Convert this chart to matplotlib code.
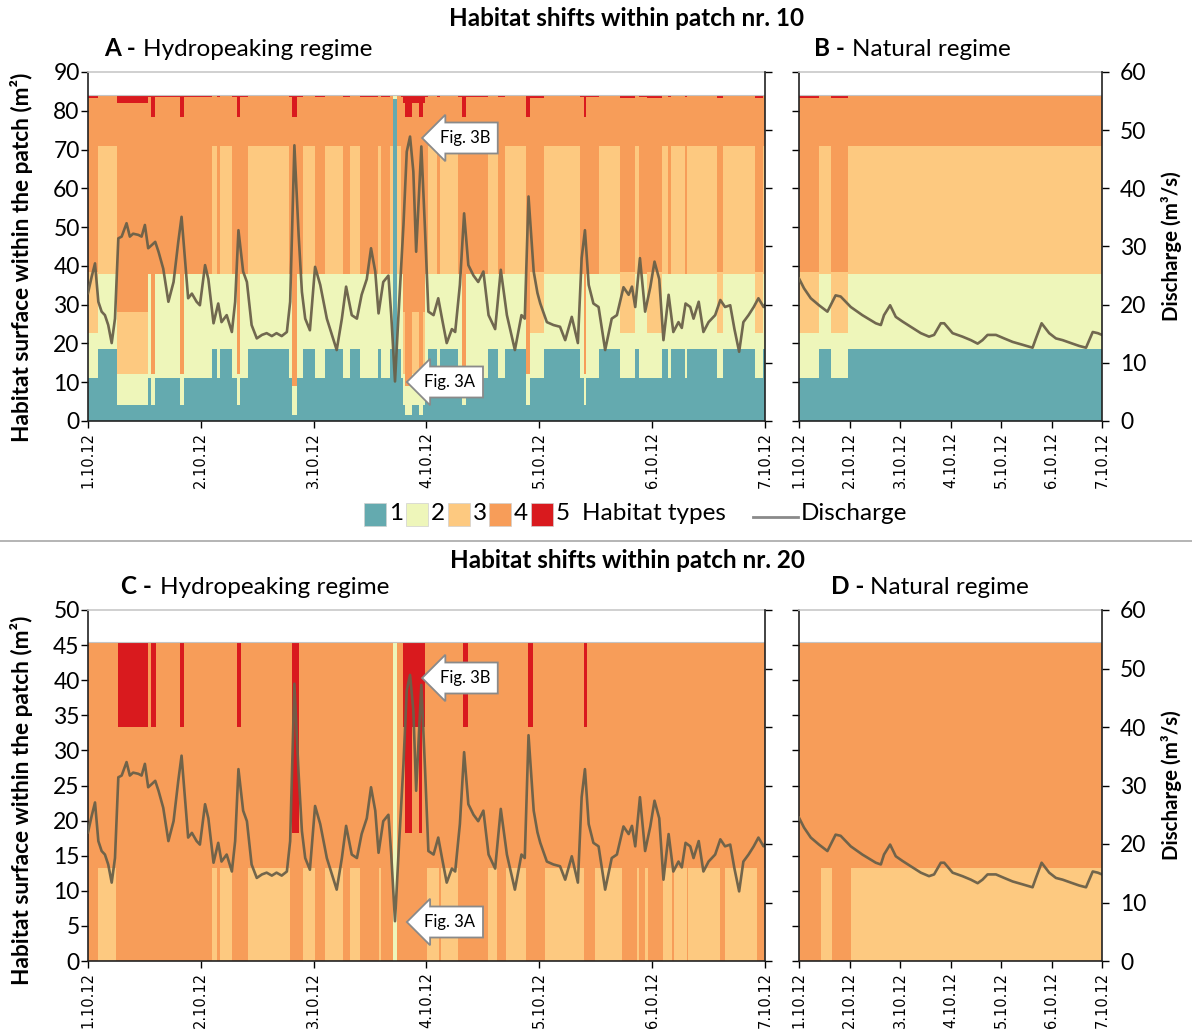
import matplotlib
matplotlib.use('Agg')
import matplotlib.pyplot as plt
from matplotlib.patches import Rectangle
from matplotlib.lines import Line2D
import numpy as np

plt.rcParams['font.family'] = ['Lato', 'DejaVu Sans']

# ---------------- data ----------------
DAY_TICKS = [0, 24, 48, 72, 96, 120, 144]
DAY_LABELS = ['1.10.12', '2.10.12', '3.10.12', '4.10.12', '5.10.12', '6.10.12', '7.10.12']

# hydropeaking discharge (hour since 1.10.12 00:00, m3/s)
Q_T = [0, 0.78, 1.49, 2.2, 2.9, 3.6, 4.3, 5.04, 5.74, 6.45, 7.16, 8.2, 8.9, 9.6, 10.7,
       11.4, 12.1, 12.8, 13.5, 14.3, 15.0, 16.0, 17.1, 18.2, 19.2, 19.9, 20.6, 21.3,
       22.1, 23.1, 23.8, 24.9, 25.6, 26.7, 27.7, 28.4, 29.5, 30.6, 31.3, 32.0, 33.0,
       33.8, 34.8, 35.9, 37.0, 38.0, 39.1, 40.1, 41.2, 42.3, 43.0, 43.9, 44.8, 45.5,
       46.2, 47.2, 48.3, 49.4, 50.8, 52.9, 54.0, 54.9, 56.1, 57.2, 58.2, 59.3, 60.2,
       61.1, 61.8, 62.8, 63.9, 64.5, 65.3, 66.0, 67.1, 67.8, 68.5, 69.2, 69.8, 70.9,
       71.7, 72.4, 73.5, 74.5, 75.3, 76.3, 77.4, 78.1, 79.1, 80.0, 80.9, 82.0, 83.0,
       84.1, 85.2, 86.6, 87.8, 89.1, 90.8, 92.2, 92.9, 93.7, 94.8, 95.6, 96.2, 97.6,
       99.0, 100.4, 101.5, 102.9, 104.2, 105.0, 105.7, 106.5, 107.5, 108.6, 110.0,
       111.4, 112.5, 113.9, 115.0, 115.7, 116.4, 117.4, 118.5, 119.6, 120.5, 121.5,
       122.4, 123.5, 124.5, 125.6, 126.3, 127.1, 128.1, 128.8, 129.9, 130.9, 132.0,
       133.4, 134.5, 135.5, 136.6, 137.5, 138.5, 139.4, 140.5, 141.6, 142.6, 143.7, 144]
Q_V = [22.0, 24.8, 27.1, 20.5, 18.8, 18.2, 16.5, 13.4, 17.6, 31.4, 31.7, 34.0, 31.7, 32.2, 32.0,
       31.7, 33.7, 29.7, 30.2, 30.8, 29.1, 26.2, 20.5, 23.9, 30.8, 35.1, 28.0, 21.1,
       21.9, 20.5, 19.9, 26.8, 24.4, 16.8, 20.2, 17.0, 18.2, 15.3, 20.5, 32.8, 25.7,
       23.9, 16.5, 14.2, 14.8, 15.1, 14.6, 15.1, 14.6, 15.3, 20.5, 47.4, 32.0, 22.2,
       17.6, 15.6, 26.5, 23.4, 17.6, 12.2, 17.6, 23.1, 18.2, 17.6, 21.7, 24.4, 29.7,
       25.7, 18.5, 23.9, 25.0, 18.2, 6.8, 17.6, 33.7, 46.3, 48.9, 42.9, 29.1, 47.2,
       32.6, 18.8, 18.2, 21.1, 17.6, 13.4, 15.8, 15.3, 23.4, 35.7, 26.8, 25.0, 23.9,
       25.7, 18.2, 15.8, 26.0, 18.2, 12.2, 18.2, 17.6, 38.6, 25.7, 22.0, 20.2, 17.0,
       16.5, 16.2, 13.9, 17.9, 13.4, 28.0, 32.8, 23.4, 20.2, 19.6, 12.2,
       17.6, 18.2, 23.0, 21.7, 23.1, 19.6, 28.0, 18.8, 23.0, 27.4, 24.4,
       13.9, 21.7, 15.3, 17.0, 16.0, 20.2, 19.6, 17.6, 20.5, 15.3, 17.0,
       18.2, 20.8, 19.6, 19.9, 15.8, 11.9, 17.0, 18.2, 19.6, 21.1, 19.6, 20.0]

# natural discharge (hour, m3/s)
NAT_T = [0, 2.4, 5.6, 9.5, 13.5, 17.4, 19.8, 24.6, 30.1, 36.5, 38.9, 40.4, 43.3,
         46.0, 49.2, 53.1, 57.9, 61.8, 64.2, 67.4, 69.0, 73.0, 77.7, 81.7, 84.9,
         87.2, 89.6, 93.6, 97.5, 101.5, 106.3, 111.0, 112.6, 115.3, 118.9, 122.1,
         125.3, 130.0, 133.2, 136.4, 139.6, 142.0, 144]
NAT_Q = [24.5, 22.8, 21.1, 19.9, 18.8, 21.6, 21.4, 19.6, 18.2, 16.8, 16.5, 18.2, 19.9,
         17.9, 17.1, 16.2, 15.1, 14.5, 14.8, 16.8, 16.8, 15.1, 14.5, 13.9, 13.3,
         13.9, 14.8, 14.8, 14.2, 13.6, 13.1, 12.6, 14.2, 16.8, 15.1, 14.2,
         13.9, 13.3, 12.9, 12.6, 15.3, 15.1, 14.8]

# habitat states: cumulative tops (m2) of habitat types 1..5
CFG_10 = {'A': [18.5, 38.0, 71.0, 84.0, 84.0],
          'B': [11.2, 22.8, 38.3, 83.4, 84.0],
          'F': [11.2, 38.0, 38.0, 83.5, 84.0],
          'C': [4.0, 12.0, 28.0, 82.0, 84.0],
          'G': [4.0, 12.0, 12.0, 78.5, 84.0],
          'E': [1.5, 9.0, 9.0, 78.5, 84.0],
          'T': [83.0, 84.0, 84.0, 84.0, 84.0]}
CFG_20 = {'a': [0.0, 0.0, 13.3, 45.5, 45.5],
          'b': [0.0, 0.0, 0.0, 45.5, 45.5],
          'c': [0.0, 0.0, 0.0, 33.3, 45.5],
          'e': [0.0, 0.0, 0.0, 18.3, 45.5],
          't': [0.0, 45.5, 45.5, 45.5, 45.5]}

# (start hour, state)
SEG_A = [(0, 'B'), (2.2, 'A'), (6.2, 'C'), (12.8, 'F'), (13.5, 'G'), (14.2, 'F'), (19.6, 'G'),
         (20.4, 'F'), (26.3, 'A'), (27.4, 'F'), (28.1, 'A'), (30.6, 'F'), (31.7, 'G'),
         (32.4, 'F'), (34.1, 'A'), (42.8, 'F'), (43.3, 'E'), (44.5, 'F'), (45.8, 'A'),
         (48.2, 'F'), (50.4, 'A'), (54.3, 'F'), (55.7, 'A'), (57.8, 'F'), (61.6, 'A'),
         (62.3, 'F'), (64.3, 'A'), (64.8, 'T'), (65.8, 'A'), (66.5, 'F'), (67.0, 'C'),
         (67.4, 'E'), (68.9, 'C'), (70.5, 'E'), (71.3, 'C'), (71.7, 'F'), (72.3, 'A'),
         (74.2, 'F'), (74.8, 'A'), (78.6, 'F'), (79.6, 'G'), (80.4, 'F'), (85.0, 'A'),
         (87.2, 'F'), (88.6, 'A'), (93.2, 'G'), (94.1, 'B'), (96.9, 'A'), (104.7, 'F'),
         (105.5, 'G'), (106.0, 'F'), (108.6, 'A'), (113.2, 'B'), (116.4, 'A'), (117.1, 'F'),
         (119.0, 'B'), (122.0, 'A'), (123.4, 'F'), (124.0, 'A'), (127.0, 'F'), (127.4, 'A'),
         (133.7, 'B'), (135.1, 'A'), (141.9, 'B'), (143.5, 'A')]
SEG_B = [(0, 'B'), (9.5, 'A'), (15.1, 'B'), (23.5, 'A')]
SEG_C = [(0, 'b'), (2.2, 'a'), (6.0, 'b'), (6.4, 'c'), (12.8, 'b'), (13.5, 'c'), (14.4, 'b'),
         (19.6, 'c'), (20.5, 'b'), (26.3, 'a'), (27.4, 'b'), (28.1, 'a'), (30.6, 'b'),
         (31.7, 'c'), (32.5, 'b'), (34.1, 'a'), (43.0, 'b'), (43.3, 'e'), (44.8, 'b'),
         (45.8, 'a'), (48.3, 'b'), (50.4, 'a'), (54.3, 'b'), (55.7, 'a'), (57.8, 'b'),
         (61.8, 'a'), (62.3, 'b'), (64.9, 't'), (65.8, 'b'), (67.0, 'c'), (67.4, 'e'),
         (68.9, 'c'), (70.5, 'e'), (71.1, 'c'), (71.6, 'b'), (72.2, 'a'), (74.6, 'b'),
         (75.1, 'a'), (78.6, 'b'), (79.8, 'c'), (80.9, 'b'), (85.0, 'a'), (87.0, 'b'),
         (88.9, 'a'), (93.1, 'b'), (93.6, 'c'), (94.7, 'b'), (97.2, 'a'), (105.4, 'b'),
         (105.6, 'c'), (106.2, 'b'), (107.9, 'a'), (113.6, 'b'), (116.7, 'a'), (117.1, 'b'),
         (118.5, 'a'), (119.2, 'b'), (122.4, 'a'), (124.2, 'b'), (124.6, 'a'), (127.4, 'b'),
         (127.7, 'a'), (134.5, 'b'), (135.5, 'a'), (142.3, 'b'), (143.7, 'a')]
SEG_D = [(0, 'b'), (10.3, 'a'), (15.9, 'b'), (24.6, 'a')]

HAB_COLORS = ['#64AAAF', '#EEF6BA', '#FDC980', '#F79D59', '#D91A1E']
HAB_LABELS = ['1', '2', '3', '4', '5']

W, H = 1192, 1034


def fx(p):
    return p / W


def fy(p):
    return 1 - p / H


def draw_habitat(ax, seg, cfg):
    t = [s[0] for s in seg] + [144]
    cum = np.array([cfg[s[1]] for s in seg] + [cfg[seg[-1][1]]])
    for k in range(4, -1, -1):
        ax.fill_between(t, 0, cum[:, k], step='post', color=HAB_COLORS[k], lw=0, zorder=1)
    ax.plot([0, 144], [cum[0, 4], cum[0, 4]], color='#c4c4c4', lw=0.8, zorder=2)


fig = plt.figure(figsize=(W / 100, H / 100), dpi=100)

TICKFS = 16.5
XTFS = 10.5


def setup(ax, ymax, ystep, left_labels):
    ax.set_xlim(0, 144)
    ax.set_ylim(0, ymax)
    ax.set_yticks(np.arange(0, ymax + 0.1, ystep))
    ax.set_xticks(DAY_TICKS)
    ax.set_xticklabels(DAY_LABELS, rotation=90, fontsize=XTFS, family='DejaVu Sans')
    ax.tick_params(axis='y', direction='out', length=5, width=1, labelsize=TICKFS, pad=1)
    ax.tick_params(axis='x', direction='out', length=5, width=1, pad=3)
    if not left_labels:
        ax.set_yticklabels([])
    ax.spines['top'].set_color('#c8c8c8')
    ax.spines['top'].set_linewidth(1.2)
    ax.spines['right'].set_visible(False)
    for s in ('left', 'bottom'):
        ax.spines[s].set_color('#222222')
        ax.spines[s].set_linewidth(1.2)


def twin(ax, right_labels):
    a2 = ax.twinx()
    a2.set_ylim(0, 60)
    a2.set_yticks(np.arange(0, 61, 10))
    a2.tick_params(axis='y', direction='out', length=5, width=1, labelsize=TICKFS, pad=8)
    if not right_labels:
        a2.set_yticklabels([])
    for s in ('top', 'left', 'bottom'):
        a2.spines[s].set_visible(False)
    a2.spines['right'].set_color('#222222')
    a2.spines['right'].set_linewidth(1.2)
    return a2


axA = fig.add_axes([fx(88), fy(421), (765 - 88) / W, (421 - 72) / H])
axB = fig.add_axes([fx(799), fy(421), (1102 - 799) / W, (421 - 72) / H])
axC = fig.add_axes([fx(88), fy(961), (765 - 88) / W, (961 - 610) / H])
axD = fig.add_axes([fx(799), fy(961), (1102 - 799) / W, (961 - 610) / H])

LINE_C = '#6a6049'

draw_habitat(axA, SEG_A, CFG_10)
setup(axA, 90, 10, True)
a2 = twin(axA, False)
a2.plot(Q_T, Q_V, color=LINE_C, lw=1.9, alpha=0.95)

draw_habitat(axB, SEG_B, CFG_10)
setup(axB, 90, 10, False)
b2 = twin(axB, True)
b2.plot(NAT_T, NAT_Q, color=LINE_C, lw=1.9, alpha=0.95)

draw_habitat(axC, SEG_C, CFG_20)
setup(axC, 50, 5, True)
c2 = twin(axC, False)
c2.plot(Q_T, Q_V, color=LINE_C, lw=1.9, alpha=0.95)

draw_habitat(axD, SEG_D, CFG_20)
setup(axD, 50, 5, False)
d2 = twin(axD, True)
d2.plot(NAT_T, NAT_Q, color=LINE_C, lw=1.9, alpha=0.95)

# titles
fig.text(fx(627), fy(18), 'Habitat shifts within patch nr. 10', ha='center', va='center',
         fontsize=17.5, weight='bold')
fig.text(fx(627), fy(561), 'Habitat shifts within patch nr. 20', ha='center', va='center',
         fontsize=17.5, weight='bold')

SUBFS = 17.5
for (xb, xt, y, lab, txt) in [(104, 143, 49, 'A -', 'Hydropeaking regime'),
                              (814, 852, 49, 'B -', 'Natural regime'),
                              (121, 160, 587, 'C -', 'Hydropeaking regime'),
                              (831, 870, 587, 'D -', 'Natural regime')]:
    fig.text(fx(xb), fy(y), lab, ha='left', va='center', fontsize=SUBFS, weight='bold')
    fig.text(fx(xt), fy(y), txt, ha='left', va='center', fontsize=SUBFS)

# axis labels
for yc in (257, 800):
    fig.text(fx(22), fy(yc), 'Habitat surface within the patch (m²)', rotation=90,
             ha='center', va='center', fontsize=16.3, weight='bold')
for yc in (246, 785):
    fig.text(fx(1172), fy(yc), 'Discharge (m³/s)', rotation=90,
             ha='center', va='center', fontsize=14.8, weight='bold')

# callouts
CALL = dict(boxstyle='larrow,pad=0.45', fc='white', ec='#8a8a8a', lw=1.3)
for (x, y, t) in [(465, 138, 'Fig. 3B'), (450, 382, 'Fig. 3A'),
                  (465, 678, 'Fig. 3B'), (450, 922, 'Fig. 3A')]:
    fig.text(fx(x), fy(y), t, ha='center', va='center', fontsize=12, bbox=CALL, zorder=20)

# legend
LEGFS = 17.5
px = [364, 406, 448, 489, 531]
for i in range(5):
    fig.add_artist(Rectangle((fx(px[i]), fy(526)), 22 / W, 23 / H, transform=fig.transFigure,
                             facecolor=HAB_COLORS[i], edgecolor='#d0d0d0', lw=0.5))
    fig.text(fx(px[i] + 25), fy(513), HAB_LABELS[i], ha='left', va='center', fontsize=LEGFS)
fig.text(fx(582), fy(513), 'Habitat types', ha='left', va='center', fontsize=LEGFS)
fig.add_artist(Line2D([fx(753), fx(798)], [fy(517), fy(517)], transform=fig.transFigure,
                      color='#8a8a8a', lw=2))
fig.text(fx(801), fy(513), 'Discharge', ha='left', va='center', fontsize=LEGFS)

# separator
fig.add_artist(Line2D([0, 1], [fy(541), fy(541)], transform=fig.transFigure,
                      color='#a8a8a8', lw=1.2))

fig.savefig('out.png', dpi=100)
